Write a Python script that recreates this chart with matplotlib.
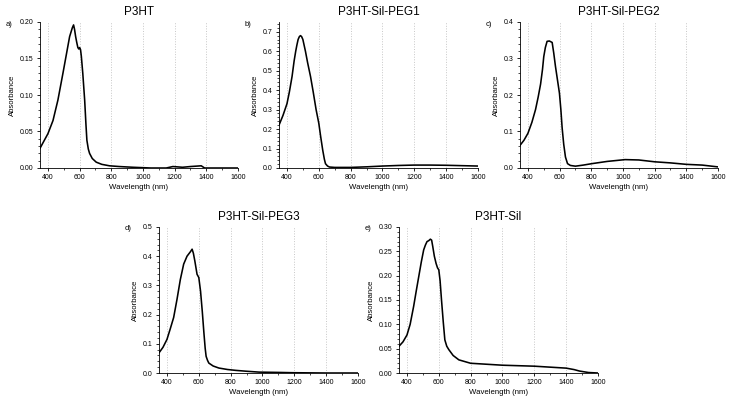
import matplotlib
matplotlib.use("Agg")
import matplotlib.pyplot as plt
from matplotlib.ticker import AutoMinorLocator, MultipleLocator, FormatStrFormatter

plt.rcParams['font.family'] = ['Liberation Sans', 'DejaVu Sans']

# Spectra (wavelength in nm, absorbance).
wl_a = [350, 400, 432, 463, 495, 516, 537, 554, 562, 568, 575, 582, 589, 595, 600, 606,
        611, 620, 632, 640, 646, 655, 663, 680, 705, 740, 789, 850, 937, 1050, 1147, 1189,
        1250, 1300, 1368, 1389, 1450, 1600]
abs_a = [0.027, 0.047, 0.065, 0.093, 0.130, 0.155, 0.180, 0.192, 0.196, 0.190, 0.180, 0.172,
         0.165, 0.163, 0.165, 0.162, 0.153, 0.130, 0.093, 0.060, 0.038, 0.026, 0.020, 0.013,
         0.008, 0.005, 0.003, 0.002, 0.001, 0.000, 0.000, 0.002, 0.001, 0.002, 0.003, 0.000,
         0.000, 0.000]

wl_b = [350, 375, 400, 415, 432, 445, 455, 462, 470, 478, 485, 492, 500, 516, 530, 548, 565,
        583, 600, 612, 625, 635, 642, 655, 667, 700, 800, 900, 1000, 1100, 1200, 1300, 1400,
        1500, 1600]
abs_b = [0.22, 0.27, 0.33, 0.39, 0.47, 0.55, 0.60, 0.63, 0.66, 0.675, 0.68, 0.675, 0.66, 0.60,
         0.54, 0.47, 0.39, 0.30, 0.23, 0.16, 0.09, 0.045, 0.022, 0.010, 0.005, 0.003, 0.003,
         0.006, 0.010, 0.013, 0.015, 0.015, 0.014, 0.012, 0.010]

wl_c = [350, 375, 400, 425, 448, 465, 480, 492, 500, 510, 521, 535, 553, 563, 574, 587, 599,
        608, 616, 626, 637, 650, 668, 700, 750, 805, 900, 1014, 1100, 1200, 1300, 1400, 1500,
        1600]
abs_c = [0.062, 0.076, 0.095, 0.125, 0.160, 0.195, 0.230, 0.270, 0.305, 0.330, 0.347, 0.348,
         0.344, 0.315, 0.278, 0.240, 0.205, 0.160, 0.110, 0.065, 0.030, 0.012, 0.007, 0.005,
         0.008, 0.012, 0.018, 0.023, 0.022, 0.017, 0.014, 0.010, 0.008, 0.003]

wl_d = [350, 375, 400, 420, 442, 463, 484, 505, 526, 547, 558, 566, 575, 589, 600, 611, 622,
        632, 640, 646, 655, 663, 690, 726, 780, 832, 900, 979, 1100, 1189, 1400, 1600]
abs_d = [0.069, 0.088, 0.115, 0.150, 0.190, 0.252, 0.320, 0.373, 0.400, 0.415, 0.424, 0.410,
         0.384, 0.338, 0.327, 0.280, 0.210, 0.138, 0.085, 0.057, 0.043, 0.034, 0.024, 0.017,
         0.012, 0.009, 0.006, 0.003, 0.002, 0.001, 0.000, 0.000]

wl_e = [350, 375, 400, 420, 442, 458, 474, 490, 505, 516, 526, 537, 547, 555, 562, 572, 583,
        592, 600, 608, 617, 628, 638, 650, 663, 690, 726, 800, 900, 1000, 1100, 1200, 1300,
        1400, 1450, 1484, 1540, 1600]
abs_e = [0.055, 0.064, 0.078, 0.100, 0.137, 0.168, 0.198, 0.228, 0.253, 0.263, 0.270, 0.272,
         0.275, 0.273, 0.260, 0.240, 0.225, 0.216, 0.212, 0.190, 0.150, 0.105, 0.068, 0.055,
         0.048, 0.036, 0.027, 0.020, 0.018, 0.016, 0.015, 0.014, 0.012, 0.010, 0.007, 0.004,
         0.001, 0.000]

titles = ["P3HT", "P3HT-Sil-PEG1", "P3HT-Sil-PEG2", "P3HT-Sil-PEG3", "P3HT-Sil"]
panel_labels = ["a)", "b)", "c)", "d)", "e)"]
y_maxes = [0.20, 0.75, 0.4, 0.5, 0.30]
y_steps = [0.05, 0.1, 0.1, 0.1, 0.05]
y_formats = ["%.2f", "%.1f", "%.1f", "%.1f", "%.2f"]

fig = plt.figure(figsize=(7.29, 4.03), dpi=100)

# Axes positions in pixels (left, top, right, bottom) of the reference.
boxes = [(40, 22, 238, 168), (279, 22, 478, 168), (520, 22, 718, 168),
         (159, 227, 358, 373), (399, 227, 598, 373)]

data = [(wl_a, abs_a), (wl_b, abs_b), (wl_c, abs_c), (wl_d, abs_d), (wl_e, abs_e)]

for i, ((x0, y0, x1, y1), (wl, ab)) in enumerate(zip(boxes, data)):
    ax = fig.add_axes([x0 / 729., 1 - y1 / 403., (x1 - x0) / 729., (y1 - y0) / 403.])
    ax.plot(wl, ab, color='k', linewidth=1.15)
    ax.set_xlim(350, 1600)
    ax.set_ylim(0, y_maxes[i])
    ax.xaxis.set_major_locator(MultipleLocator(200))
    ax.xaxis.set_minor_locator(AutoMinorLocator(2))
    ax.yaxis.set_major_locator(MultipleLocator(y_steps[i]))
    ax.yaxis.set_minor_locator(AutoMinorLocator(5))
    ax.yaxis.set_major_formatter(FormatStrFormatter(y_formats[i]))
    ax.grid(axis='x', color=(0.78, 0.78, 0.78), linestyle=':', linewidth=0.7)
    for side in ['top', 'right']:
        ax.spines[side].set_visible(False)
    for side in ['left', 'bottom']:
        ax.spines[side].set_linewidth(0.6)
    ax.tick_params(which='major', direction='out', length=2.5, width=0.6, labelsize=5, pad=2)
    ax.tick_params(which='minor', direction='out', length=1.3, width=0.5)
    ax.set_xlabel("Wavelength (nm)", fontsize=5.6, labelpad=2)
    ax.set_ylabel("Absorbance", fontsize=5.6, labelpad=3)
    ax.set_title(titles[i], fontsize=8.5, pad=5)
    fig.text((x0 - 34) / 729., 1 - (y0 + 2) / 403., panel_labels[i], fontsize=5.5,
             ha='left', va='center')

fig.savefig("out.png", dpi=100)
plt.close(fig)
